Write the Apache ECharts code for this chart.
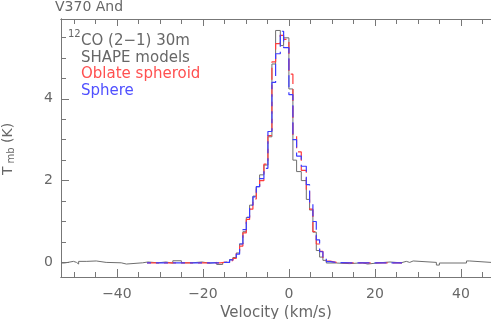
<!DOCTYPE html>
<html><head><meta charset="utf-8">
<script src="https://cdn.jsdelivr.net/npm/echarts@6/dist/echarts.min.js"></script>
<style>html,body{margin:0;padding:0;background:#fff}#c{width:491px;height:319px}</style>
</head><body><div id="c"></div>
<script>
// Observed 12CO (2-1) spectrum: channel left edges (km/s) and Tmb (K)
const obsVel = [-53.0,-52.2,-50.1,-49.4,-48.9,-47.0,-44.8,-42.5,-39.0,-37.8,-34.0,-32.8,-30.4,-28.6,-27.0,-25.0,-22.6,-20.2,-18.4,-16.8,-15.4,
  -13.79,-13.02,-12.23,-11.47,-10.70,-9.91,-9.14,-8.37,-7.58,-6.81,-5.81,-4.88,-3.95,-3.09,-2.0,-1.23,0.0,0.93,1.79,2.88,4.05,4.81,5.58,6.37,7.14,7.91,
  8.70,11.0,14.1,17.1,18.3,21.0,23.5,26.1,27.3,28.1,28.9,34.3,35.0,41.3,42.0,47.0];
const obsT = [-0.015,0.025,0.0,-0.04,0.025,0.035,0.0,-0.01,-0.04,-0.01,0.01,-0.01,0.01,-0.02,0.04,-0.01,0.01,-0.02,0.0,-0.05,0.0,
  0.07,0.12,0.23,0.45,0.75,1.1,1.4,1.62,1.85,2.14,2.38,3.07,4.85,5.67,5.3,5.49,4.24,2.5,2.22,2.0,1.54,1.28,0.74,0.29,0.13,0.05,
  -0.015,-0.03,-0.01,-0.04,-0.01,0.01,-0.01,0.025,0.0,0.035,0.0,-0.065,-0.015,0.035,0.0,0.0];
// SHAPE models: channel left edges and Tmb
const modelVel = [-33.0,-29.0,-25.0,-21.0,-17.6,-16.0,-14.95,-13.79,-13.02,-12.23,-11.47,-10.70,-9.91,-9.14,-8.37,-7.58,-6.81,-5.81,-4.88,
  -3.95,-3.09,-2.0,-1.23,0.0,0.93,1.79,2.88,4.05,4.81,5.58,6.37,7.14,7.91,8.70,9.6,11.0,14.0,18.0,22.0,26.3];
const oblateT = [-0.01,-0.01,-0.01,-0.01,-0.01,0.0,0.01,0.05,0.1,0.22,0.4,0.72,1.05,1.3,1.55,1.8,2.0,2.4,3.1,
  4.9,5.35,5.55,5.45,4.6,3.1,2.7,2.25,1.78,1.3,0.75,0.45,0.27,0.1,0.03,0.0,-0.01,-0.01,-0.01,-0.01,-0.01];
const sphereT = [-0.01,-0.01,-0.01,-0.01,-0.01,0.0,0.0,0.06,0.12,0.2,0.45,0.8,1.1,1.4,1.6,1.85,2.05,2.3,3.2,
  4.4,5.1,5.65,5.25,4.1,3.0,2.6,2.35,1.9,1.45,1.0,0.55,0.26,0.12,0.02,0.0,-0.01,-0.01,-0.01,-0.01,-0.01];
const xMajorTicks = [-40,-20,0,20,40];
const xMinorTicks = [-50,-45,-35,-30,-25,-15,-10,-5,5,10,15,25,30,35,45];
const yMajorTicks = [0,2,4];
const yMinorTicks = [0.5,1,1.5,2.5,3,3.5,4.5,5,5.5];

const pair = (xs, ys) => xs.map((x, i) => [x, ys[i]]);
const AX = '#777', TX = '#676767', FF = 'DejaVu Sans';
const X0 = -53, X1 = 47, Y0 = -0.357, Y1 = 5.95;

function xAx(pos, ticks, len, labels, extra) {
  return Object.assign({
    type: 'value', min: X0, max: X1, position: pos,
    axisLine: { show: true, onZero: false, lineStyle: { color: AX, width: 1 } },
    axisTick: { show: true, inside: true, length: len, customValues: ticks, lineStyle: { color: AX, width: 1 } },
    axisLabel: labels ? { show: true, customValues: ticks, fontFamily: FF, fontSize: 14, color: TX, margin: 10,
      formatter: v => (v < 0 ? '\u2212' + (-v) : '' + v) } : { show: false },
    splitLine: { show: false }
  }, extra || {});
}
function yAx(ticks, len, labels, extra) {
  return Object.assign({
    type: 'value', min: Y0, max: Y1, position: 'left',
    axisLine: { show: true, onZero: false, lineStyle: { color: AX, width: 1 } },
    axisTick: { show: true, inside: true, length: len, customValues: ticks, lineStyle: { color: AX, width: 1 } },
    axisLabel: labels ? { show: true, customValues: ticks, fontFamily: FF, fontSize: 14, color: TX, margin: 8 } : { show: false },
    splitLine: { show: false }
  }, extra || {});
}

const chart = echarts.init(document.getElementById('c'), null, { renderer: 'canvas' });
chart.setOption({
  backgroundColor: '#fff',
  animation: false,
  grid: { left: 61, top: 19, width: 430, height: 258, containLabel: false, outerBoundsMode: 'none' },
  xAxis: [
    xAx('bottom', xMajorTicks, 8, true, { name: 'Velocity (km/s)', nameLocation: 'middle', nameGap: 25,
      nameTextStyle: { fontFamily: FF, fontSize: 15, color: TX } }),
    xAx('bottom', xMinorTicks, 5, false),
    xAx('top', xMajorTicks, 7, false),
    xAx('top', xMinorTicks, 5, false)
  ],
  yAxis: [ yAx(yMajorTicks, 8, true), yAx(yMinorTicks, 5, false) ],
  series: [
    { type: 'line', name: 'obs', data: pair(obsVel, obsT), step: 'end', symbol: 'none', silent: true,
      lineStyle: { color: '#6e6e6e', width: 1 }, z: 2 },
    { type: 'line', name: 'Oblate spheroid', data: pair(modelVel, oblateT), step: 'end', symbol: 'none', silent: true,
      lineStyle: { color: '#ff3c3c', width: 1.2, type: [12, 5], dashOffset: 0 }, z: 3 },
    { type: 'line', name: 'Sphere', data: pair(modelVel, sphereT), step: 'end', symbol: 'none', silent: true,
      lineStyle: { color: '#3c3cff', width: 1.2, type: [12, 5], dashOffset: 8 }, z: 4 }
  ],
  graphic: [
    { type: 'text', x: 55, y: 7.5, style: { text: 'V370 And', fontFamily: FF, fontSize: 14, fill: TX, verticalAlign: 'middle' } },
    { type: 'text', x: 68, y: 34, style: { text: '12', fontFamily: FF, fontSize: 10, fill: TX, verticalAlign: 'middle' } },
    { type: 'text', x: 81, y: 41.5, style: { text: 'CO (2\u22121) 30m', fontFamily: FF, fontSize: 15, fill: TX, verticalAlign: 'middle' } },
    { type: 'text', x: 81, y: 58.5, style: { text: 'SHAPE models', fontFamily: FF, fontSize: 15, fill: TX, verticalAlign: 'middle' } },
    { type: 'text', x: 81, y: 74.5, style: { text: 'Oblate spheroid', fontFamily: FF, fontSize: 15, fill: '#ff5050', verticalAlign: 'middle' } },
    { type: 'text', x: 81, y: 91.5, style: { text: 'Sphere', fontFamily: FF, fontSize: 15, fill: '#5050ff', verticalAlign: 'middle' } },
    { type: 'group', x: 8, y: 148.5, rotation: Math.PI / 2, children: [
      { type: 'text', x: -26.5, y: 0, style: { text: 'T', fontFamily: FF, fontSize: 14, fill: TX, verticalAlign: 'middle' } },
      { type: 'text', x: -15, y: 3.5, style: { text: 'mb', fontFamily: FF, fontSize: 10, fill: TX, verticalAlign: 'middle' } },
      { type: 'text', x: 5.5, y: 0, style: { text: '(K)', fontFamily: FF, fontSize: 14, fill: TX, verticalAlign: 'middle' } }
    ] }
  ]
});
</script></body></html>
